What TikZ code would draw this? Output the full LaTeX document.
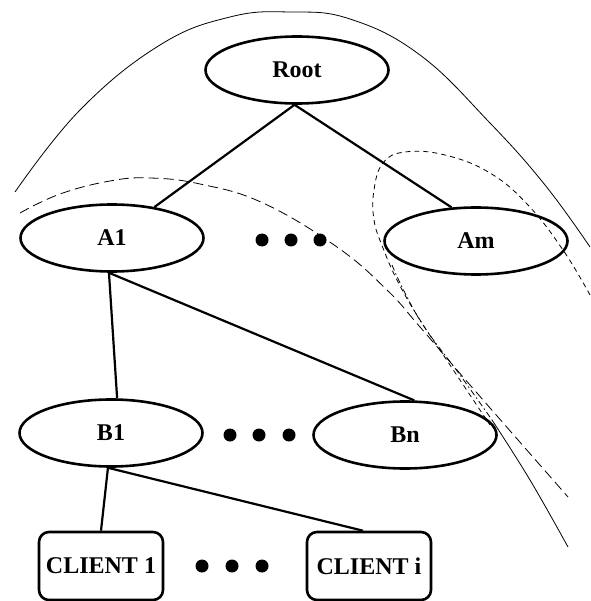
\documentclass[tikz,border=0pt]{standalone}
\usepackage{fontspec}
\setmainfont{Liberation Serif}
\usetikzlibrary{shapes.geometric}
\tikzset{
  lbl/.style={font=\fontsize{24}{27}\selectfont\bfseries},
  tree/.style={ellipse, draw, line width=2.6pt, minimum width=183pt, minimum height=67pt, inner sep=0pt, lbl},
  client/.style={rectangle, rounded corners=10pt, draw, line width=2.6pt, minimum width=124pt, minimum height=68pt, inner sep=0pt, lbl},
  edge/.style={line width=2.2pt},
  dotmark/.style={circle, fill=black, minimum size=13pt, inner sep=0pt},
  region/.style={line width=0.8pt},
  longdash/.style={region, dash pattern=on 10pt off 5pt},
  shortdash/.style={region, dash pattern=on 5pt off 4pt},
  dashdotline/.style={region, dash pattern=on 6pt off 3pt on 1.5pt off 3pt},
}
\begin{document}
\begin{tikzpicture}[x=1pt, y=-1pt]
  \fill[white] (0,0) rectangle (590,601);
  \useasboundingbox (0,0) rectangle (590,601);

  % tree nodes
  \node[tree] (root) at (297,70) {Root};
  \node[tree] (a1) at (112,238) {A1};
  \node[tree] (am) at (476,241) {Am};
  \node[tree] (b1) at (111,433) {B1};
  \node[tree] (bn) at (405,435) {Bn};
  \node[client] (c1) at (101,566) {CLIENT 1};
  \node[client] (ci) at (369,566) {CLIENT i};

  % ellipsis dots
  \node[dotmark] (d1) at (262,240) {};
  \node[dotmark] (d2) at (291,240) {};
  \node[dotmark] (d3) at (320,240) {};
  \node[dotmark] (e1) at (230,435) {};
  \node[dotmark] (e2) at (259,435) {};
  \node[dotmark] (e3) at (289,435) {};
  \node[dotmark] (f1) at (202,566) {};
  \node[dotmark] (f2) at (232,566) {};
  \node[dotmark] (f3) at (262,566) {};

  % tree edges
  \draw[edge] (root.266) -- (a1);
  \draw[edge] (root.266) -- (am.126);
  \draw[edge] (a1.265) -- (b1.80);
  \draw[edge] (a1.265) -- (bn.75);
  \draw[edge] (b1.265) -- (c1.north);
  \draw[edge] (b1.265) -- ([xshift=-6pt]ci.north);

  % outer solid boundary
  \draw[region] plot[smooth, tension=0.7] coordinates {
    (15,192) (80,110) (160,45) (230,17) (290,12) (350,19)
    (420,55) (490,123) (545,185) (590,247)};

  % long-dashed boundary
  \draw[longdash] plot[smooth, tension=0.7] coordinates {
    (20,213) (60,194) (110,181) (150,178) (200,184) (263,203)
    (337,247) (387,290) (420,327) (470,385) (568,497)};

  % short-dashed loop around Am
  \draw[shortdash] plot[smooth, tension=0.7] coordinates {
    (590,295) (563,250) (528,205) (490,173) (445,155) (405,152)
    (383,163) (374,190) (374,220) (383,248) (398,282) (420,320)
    (450,365) (490,425)};

  % dash-dotted boundary ending in a solid stroke
  \draw[dashdotline] plot[smooth, tension=0.7] coordinates {
    (392,265) (405,293) (425,328) (460,375) (492,420)};
  \draw[region] plot[smooth, tension=0.7] coordinates {
    (492,420) (530,480) (568,547)};
\end{tikzpicture}
\end{document}
